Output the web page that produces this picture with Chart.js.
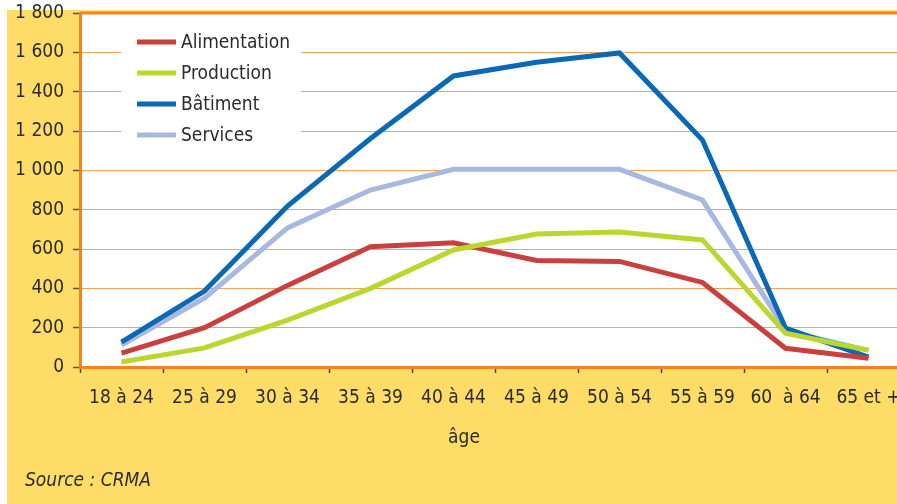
<!DOCTYPE html>
<html>
<head>
<meta charset="utf-8">
<script src="https://cdn.jsdelivr.net/npm/chart.js@4/dist/chart.umd.min.js"></script>
<style>
  html, body { margin: 0; padding: 0; overflow: hidden; background: #fff; }
  #wrap { position: relative; width: 930px; height: 504px; }
</style>
</head>
<body>
<div id="wrap"><canvas id="ageChart"></canvas></div>
<script>
const ageLabels = ['18 à 24', '25 à 29', '30 à 34', '35 à 39', '40 à 44', '45 à 49', '50 à 54', '55 à 59', '60  à 64', '65 et +'];
const alimentation = [70, 200, 415, 612, 632, 542, 537, 430, 95, 45];
const production = [25, 97, 238, 400, 595, 676, 686, 646, 172, 85];
const batiment = [127, 386, 818, 1162, 1480, 1550, 1597, 1154, 198, 50];
const services = [112, 350, 707, 900, 1005, 1005, 1005, 849, 190, 88];
const yTicks = [0, 200, 400, 600, 800, 1000, 1200, 1400, 1600, 1800];

const fontFam = "'Liberation Sans Narrow', 'DejaVu Sans Condensed', 'Roboto', sans-serif";
const textCol = '#2b2b2b';
const yellow = '#fddc68';
const orange = '#f58220';

function fmt(v) {
    return String(v).replace(/\B(?=(\d{3})+(?!\d))/g, ' ');
}

// backgrounds, legend box and the loose texts
const decor = {
    id: 'decor',
    beforeDraw(chart) {
        const ctx = chart.ctx;
        const a = chart.chartArea;
        ctx.save();
        ctx.fillStyle = '#fff';
        ctx.fillRect(0, 0, chart.width, chart.height);
        ctx.fillStyle = yellow;
        ctx.fillRect(7, 10, chart.width - 7, chart.height - 10);
        ctx.fillStyle = '#fff';
        ctx.fillRect(a.left, a.top, a.right - a.left, a.bottom - a.top);
        ctx.restore();
    },
    beforeDatasetsDraw(chart) {
        const ctx = chart.ctx;
        const a = chart.chartArea;
        ctx.save();
        // legend box hides the grid
        ctx.fillStyle = '#fff';
        ctx.fillRect(121, a.top + 3, 180, 130);
        chart.data.datasets.forEach((ds, i) => {
            const y = 42 + i * 31;
            ctx.strokeStyle = ds.borderColor;
            ctx.lineWidth = 5;
            ctx.beginPath();
            ctx.moveTo(137, y);
            ctx.lineTo(176, y);
            ctx.stroke();
            ctx.fillStyle = textCol;
            ctx.font = '19px ' + fontFam;
            ctx.textBaseline = 'middle';
            ctx.fillText(ds.label, 181, y + 1);
        });
        // top border
        ctx.strokeStyle = orange;
        ctx.lineWidth = 3;
        ctx.beginPath();
        ctx.moveTo(a.left, a.top);
        ctx.lineTo(chart.width, a.top);
        ctx.stroke();
        ctx.restore();
    },
    afterDraw(chart) {
        const ctx = chart.ctx;
        ctx.save();
        ctx.fillStyle = textCol;
        ctx.textBaseline = 'middle';
        ctx.textAlign = 'center';
        ctx.font = '19px ' + fontFam;
        ctx.fillText('âge', 464, 438);
        ctx.textAlign = 'left';
        ctx.font = 'italic 19px ' + fontFam;
        ctx.fillText('Source : CRMA', 25, 481);
        ctx.restore();
    }
};

new Chart(document.getElementById('ageChart'), {
    type: 'line',
    data: {
        labels: ageLabels,
        datasets: [
            { label: 'Alimentation', data: alimentation, borderColor: '#c9403f', order: 1 },
            { label: 'Production', data: production, borderColor: '#bcd630', order: 0 },
            { label: 'Bâtiment', data: batiment, borderColor: '#0a68b4', order: 2 },
            {
                label: 'Services', data: services, borderColor: '#a9b8df', order: 3,
                segment: { borderColor: c => c.p0DataIndex === 8 ? '#3cb9c4' : undefined, borderWidth: c => c.p0DataIndex === 8 ? 3 : undefined }
            }
        ]
    },
    options: {
        responsive: true,
        maintainAspectRatio: false,
        animation: false,
        layout: { padding: { top: 13, right: 20, left: 0, bottom: 0 } },
        elements: {
            line: { borderWidth: 5, tension: 0, borderJoinStyle: 'miter', fill: false },
            point: { radius: 0 }
        },
        plugins: {
            legend: { display: false },
            tooltip: { enabled: false }
        },
        scales: {
            x: {
                offset: true,
                grid: {
                    offset: true,
                    drawOnChartArea: false,
                    drawTicks: true,
                    tickLength: 6,
                    tickColor: '#444',
                    tickWidth: 1.5
                },
                border: { color: orange, width: 3 },
                ticks: { color: textCol, font: { family: fontFam, size: 19 }, padding: 14, maxRotation: 0, autoSkip: false },
                afterFit: s => { s.height = 137; }
            },
            y: {
                min: 0,
                max: 1800,
                afterBuildTicks: s => { s.ticks = yTicks.map(v => ({ value: v })); },
                grid: {
                    color: '#f6a05a',
                    lineWidth: 1,
                    tickLength: 7,
                    tickColor: '#555',
                    tickWidth: 1.5
                },
                border: { color: orange, width: 3 },
                ticks: {
                    color: textCol,
                    font: { family: fontFam, size: 19 },
                    padding: 9,
                    callback: v => fmt(v)
                },
                afterFit: s => { s.width = 80; s.paddingTop = 0; s.paddingBottom = 0; }
            }
        }
    },
    plugins: [decor]
});
</script>
</body>
</html>
